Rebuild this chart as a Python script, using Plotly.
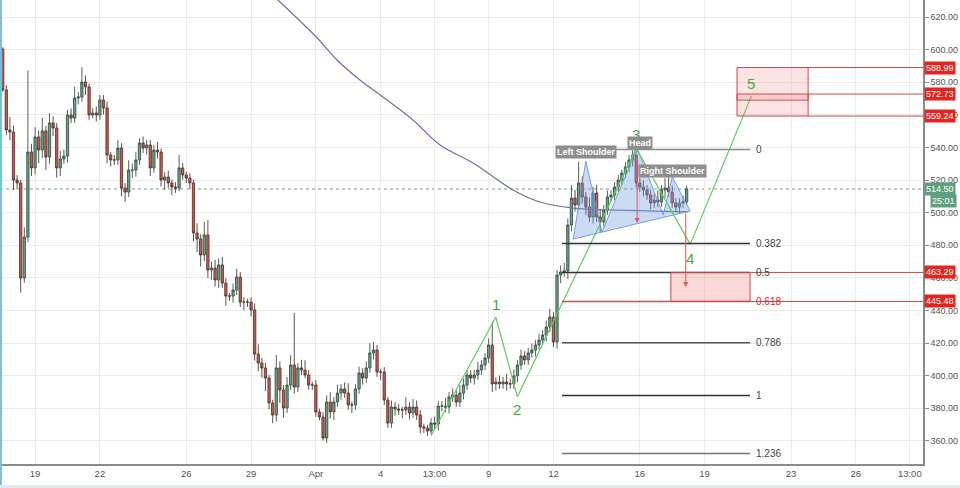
import plotly.graph_objects as go
import pandas as pd

# ---------------- data ----------------
candle_start = "2018-03-17 12:00"
first_open = 600.4
closes = [
    575.2, 550.7, 549.4, 520.0, 518.2, 459.9, 485.0, 537.2, 527.4, 546.4,
    538.4, 550.1, 534.1, 555.0, 551.9, 527.4, 532.9, 534.7, 559.9, 558.0,
    570.3, 570.9, 580.1, 577.1, 559.9, 561.1, 559.9, 569.1, 564.2, 535.3,
    532.3, 532.3, 539.6, 515.1, 512.6, 526.1, 526.1, 532.3, 542.7, 539.6,
    541.5, 527.4, 538.4, 537.2, 520.0, 521.8, 518.2, 515.7, 515.1, 527.4,
    523.1, 521.2, 518.2, 487.5, 483.8, 474.0, 486.3, 464.8, 466.0, 458.7,
    467.9, 456.8, 448.8, 448.8, 452.5, 460.5, 445.1, 445.1, 445.1, 440.3,
    413.2, 407.7, 404.7, 398.5, 383.2, 375.8, 404.7, 391.2, 380.1, 394.2,
    406.5, 393.0, 404.7, 403.4, 400.4, 394.2, 394.2, 377.7, 374.6, 361.7,
    383.8, 377.7, 383.8, 389.3, 391.8, 389.3, 382.0, 382.0, 391.8, 401.6,
    398.5, 404.7, 413.9, 415.7, 402.2, 402.2, 385.0, 370.9, 380.7, 379.5,
    378.9, 378.9, 380.7, 377.1, 380.7, 375.8, 368.5, 367.8, 366.0, 370.9,
    370.3, 381.3, 381.3, 380.7, 386.9, 388.1, 383.8, 389.3, 394.2, 400.4,
    398.5, 400.4, 403.4, 406.5, 410.8, 418.8, 394.9, 396.1, 394.9, 396.1,
    394.9, 394.9, 399.8, 406.5, 412.0, 409.6, 413.9, 415.7, 418.8, 421.8,
    424.9, 429.8, 435.9, 420.6, 461.7, 463.6, 464.2, 492.4, 508.9, 504.7,
    518.2, 509.6, 503.4, 497.3, 512.0, 497.3, 494.2, 501.6, 509.6, 510.8,
    515.7, 520.0, 524.3, 528.0, 532.3, 535.3, 518.2, 515.7, 513.9, 510.8,
    505.9, 507.7, 506.5, 513.9, 515.1, 512.6, 505.9, 503.4, 505.9, 506.5, 514.5,
]
wick_up = [
    1, 3, 8, 4, 3, 2, 6, 50, 5, 6,
    4, 8, 3, 6, 4, 3, 5, 4, 3, 4,
    7, 3, 9, 4, 2, 3, 4, 3, 3, 4,
    2, 3, 5, 3, 3, 6, 4, 5, 3, 4,
    3, 3, 3, 5, 2, 3, 4, 2, 3, 8,
    3, 2, 3, 2, 6, 3, 8, 9, 4, 5,
    4, 5, 3, 2, 4, 5, 3, 3, 2, 3,
    4, 6, 3, 3, 2, 2, 8, 4, 3, 5,
    6, 32, 3, 5, 6, 3, 2, 3, 2, 3,
    4, 6, 3, 5, 3, 4, 6, 2, 3, 4,
    3, 4, 6, 5, 3, 2, 3, 2, 4, 3,
    3, 2, 6, 3, 5, 4, 3, 2, 2, 3,
    4, 3, 3, 5, 3, 4, 3, 5, 4, 3,
    3, 3, 5, 3, 3, 4, 14, 3, 4, 3,
    5, 3, 4, 3, 4, 3, 3, 4, 3, 4,
    3, 4, 5, 3, 3, 4, 5, 4, 8, 5,
    13, 4, 3, 6, 4, 5, 5, 3, 4, 3,
    3, 3, 2, 3, 3, 3, 3, 3, 4, 3,
    3, 4, 6, 3, 6, 7, 4, 3, 3, 4, 2,
]
wick_dn = [
    1, 3, 5, 6, 4, 9, 3, 3, 5, 4,
    8, 5, 8, 4, 5, 6, 5, 3, 4, 3,
    3, 4, 3, 5, 3, 2, 4, 3, 4, 5,
    4, 3, 3, 5, 6, 3, 5, 4, 3, 3,
    4, 5, 3, 4, 4, 6, 3, 5, 3, 2,
    3, 3, 4, 5, 8, 7, 4, 5, 6, 4,
    5, 3, 6, 3, 4, 3, 3, 5, 3, 4,
    4, 5, 6, 8, 4, 5, 4, 8, 6, 3,
    3, 4, 3, 3, 2, 3, 3, 3, 2, 1.5,
    3, 4, 5, 3, 4, 3, 3, 5, 3, 3,
    4, 3, 3, 4, 3, 5, 3, 3, 3, 4,
    3, 5, 3, 4, 3, 3, 4, 3, 3, 2,
    3, 4, 3, 3, 4, 3, 3, 3, 4, 3,
    3, 4, 3, 3, 3, 3, 5, 4, 3, 3,
    4, 3, 3, 4, 3, 3, 3, 3, 4, 3,
    3, 4, 3, 3, 4, 5, 3, 5, 4, 4,
    3, 4, 5, 3, 4, 3, 6, 3, 3, 3,
    3, 3, 3, 3, 3, 4, 3, 3, 4, 3,
    4, 3, 3, 3, 5, 3, 3, 3, 4, 3, 2,
]

# moving average
ma_times = ["2018-03-29 10:00", "2018-03-30 06:00", "2018-04-01 01:30", "2018-04-01 23:30",
            "2018-04-03 01:00", "2018-04-04 07:00", "2018-04-05 12:00", "2018-04-06 18:00",
            "2018-04-08 06:45", "2018-04-10 03:00", "2018-04-11 09:00", "2018-04-12 22:00",
            "2018-04-15 02:00", "2018-04-18 05:30"]
ma_values = [641.0, 630.4, 607.1, 593.6, 581.3, 569.1, 556.8, 541.5, 530.4, 513.9, 506.5, 502.8, 501.5, 500.5]

# Elliott wave points
wave_times = ["2018-04-06 08:00", "2018-04-09 08:00", "2018-04-10 08:00",
              "2018-04-15 20:00", "2018-04-18 08:00", "2018-04-21 04:00"]
wave_values = [363.1, 435.8, 387.0, 539.4, 480.5, 571.5]
wave_labels = ["", "1", "2", "3", "4", "5"]
wave_label_values = [None, 443.9, 379.5, 548.2, 472.1, 578.9]

# Head & shoulders outline
hs_times = ["2018-04-12 22:00", "2018-04-13 12:00", "2018-04-14 06:00", "2018-04-15 21:00",
            "2018-04-17 02:00", "2018-04-17 12:00", "2018-04-18 08:00", "2018-04-12 22:00"]
hs_values = [483.8, 531.6, 488.1, 539.6, 498.5, 521.8, 501.0, 483.8]
hs_label_text = ["Left Shoulder", "Head", "Right Shoulder"]
hs_label_times = ["2018-04-13 12:15", "2018-04-16 00:00", "2018-04-17 11:45"]
hs_label_values = [537.2, 543.0, 525.5]

# arrows (time, from value, to value)
arrow_times = ["2018-04-15 21:00", "2018-04-18 03:00"]
arrow_from = [535.3, 500.4]
arrow_to = [493.6, 454.4]

# Fibonacci retracement
fib_start, fib_end = "2018-04-12 09:30", "2018-04-21 02:30"
fib_high, fib_low = 538.74, 387.83
fib_levels = [0, 0.382, 0.5, 0.618, 0.786, 1, 1.236]
fib_text = ["0", "0.382", "0.5", "0.618", "0.786", "1", "1.236"]

# target boxes
boxA_times = ["2018-04-17 10:30", "2018-04-21 02:30"]
boxA_values = [445.48, 463.29]
boxB_times = ["2018-04-20 12:00", "2018-04-23 19:00"]
boxB_ranges = [(569.0, 588.99), (559.24, 572.73)]
boxB_levels = [588.99, 572.73, 559.24]

last_price = 514.50
countdown = "25:01"

# axis
x_range = ["2018-03-17 09:00", "2018-04-29 02:40"]
y_range = [345.77, 630.43]
x_tickvals = ["2018-03-19", "2018-03-22", "2018-03-26", "2018-03-29", "2018-04-01", "2018-04-04",
              "2018-04-06 12:00", "2018-04-09", "2018-04-12", "2018-04-16", "2018-04-19",
              "2018-04-23", "2018-04-26", "2018-04-28 12:00"]
x_ticktext = ["19", "22", "26", "29", "Apr", "4", "13:00", "9", "12", "16", "19", "23", "26", "13:00"]
y_tickvals = [360, 380, 400, 420, 440, 460, 480, 500, 520, 540, 560, 580, 600, 620]

# ---------------- build ----------------
times = pd.date_range(candle_start, periods=len(closes), freq="4h")
opens = [first_open] + closes[:-1]
highs = [max(o, c) + u for o, c, u in zip(opens, closes, wick_up)]
lows = [min(o, c) - d for o, c, d in zip(opens, closes, wick_dn)]

FONT = "Liberation Sans, Arial, sans-serif"
RED = "#e3241f"
BOXRED = "#d0454a"
GREEN_W = "#5fce5f"
GREEN_T = "#43a843"
TAGSIZE = 9

fig = go.Figure()
fig.add_trace(go.Candlestick(
    x=times, open=opens, high=highs, low=lows, close=closes,
    increasing=dict(fillcolor="#62a783", line=dict(color="#40514a", width=0.9)),
    decreasing=dict(fillcolor="#d35846", line=dict(color="#553a36", width=0.9)),
    whiskerwidth=0, hoverinfo="skip", showlegend=False,
))
fig.add_trace(go.Scatter(x=ma_times, y=ma_values, mode="lines", line=dict(color="#6f6fa6", width=1.2, shape="spline"),
                         hoverinfo="skip", showlegend=False))
# head & shoulders
fig.add_trace(go.Scatter(x=hs_times, y=hs_values, mode="lines", fill="toself",
                         fillcolor="rgba(120,160,225,0.38)", line=dict(color="rgba(110,150,220,0.9)", width=1),
                         hoverinfo="skip", showlegend=False))
# wave
fig.add_trace(go.Scatter(x=wave_times, y=wave_values, mode="lines", line=dict(color=GREEN_W, width=1.2),
                         hoverinfo="skip", showlegend=False))

shapes = []
shapes.append(dict(type="line", xref="paper", x0=0, x1=1, yref="y", y0=last_price, y1=last_price,
                   line=dict(color="#6e9c8c", width=1, dash="dot"), layer="below"))
fib_colors = ["#8a8a8a", "#333333", "#333333", "#b85a55", "#555555", "#333333", "#777777"]
fib_vals = [fib_high - lv * (fib_high - fib_low) for lv in fib_levels]
for v, col in zip(fib_vals, fib_colors):
    shapes.append(dict(type="line", xref="x", yref="y", x0=fib_start, x1=fib_end, y0=v, y1=v,
                       line=dict(color=col, width=1.5)))
shapes.append(dict(type="rect", xref="x", yref="y", x0=boxA_times[0], x1=boxA_times[1],
                   y0=boxA_values[0], y1=boxA_values[1], fillcolor="rgba(240,120,120,0.28)",
                   line=dict(color=BOXRED, width=1)))
for v in boxA_values:
    shapes.append(dict(type="line", xref="x", yref="y", x0=boxA_times[1], x1=x_range[1], y0=v, y1=v,
                       line=dict(color=BOXRED, width=1)))
for lo, hi in boxB_ranges:
    shapes.append(dict(type="rect", xref="x", yref="y", x0=boxB_times[0], x1=boxB_times[1],
                       y0=lo, y1=hi, fillcolor="rgba(240,120,120,0.2)", line=dict(color=BOXRED, width=1)))
for v in boxB_levels:
    shapes.append(dict(type="line", xref="x", yref="y", x0=boxB_times[1], x1=x_range[1], y0=v, y1=v,
                       line=dict(color=BOXRED, width=1)))
shapes.append(dict(type="line", xref="paper", yref="paper", x0=0.001, x1=0.001, y0=-0.05, y1=1,
                   line=dict(color="#79bfdc", width=2)))
shapes.append(dict(type="rect", xref="paper", yref="paper", x0=0, x1=1.05, y0=-0.06, y1=-0.045,
                   fillcolor="#e4e8ec", line=dict(width=0)))

ann = []
for t, v in zip(fib_text, fib_vals):
    ann.append(dict(x=fib_end, y=v, xref="x", yref="y", text=t, showarrow=False, xanchor="left",
                    xshift=4, font=dict(family=FONT, size=10, color=(RED if t == "0.618" else "#444"))))
for t, x, v in zip(wave_labels, wave_times, wave_label_values):
    if t:
        ann.append(dict(x=x, y=v, xref="x", yref="y", text=t, showarrow=False,
                        font=dict(family=FONT, size=15, color=GREEN_T)))
for t, x, v in zip(hs_label_text, hs_label_times, hs_label_values):
    ann.append(dict(x=x, y=v, xref="x", yref="y", text="<b>" + t + "</b>", showarrow=False,
                    bgcolor="#8e8e8e", borderpad=1, font=dict(family=FONT, size=9, color="white")))
for x, a, b in zip(arrow_times, arrow_from, arrow_to):
    ann.append(dict(x=x, y=b, ax=x, ay=a, xref="x", yref="y", axref="x", ayref="y", text="",
                    showarrow=True, arrowhead=2, arrowsize=1, arrowwidth=1, arrowcolor="#e05555"))
for v in boxB_levels + boxA_values[::-1]:
    ann.append(dict(x=1, y=v, xref="paper", yref="y", text="%.2f" % v, showarrow=False, xanchor="left",
                    xshift=1, bgcolor=RED, borderpad=1, font=dict(family=FONT, size=TAGSIZE, color="white")))
ann.append(dict(x=1, y=last_price, xref="paper", yref="y", text="%.2f" % last_price, showarrow=False,
                xanchor="left", xshift=1, bgcolor="#5f9f80", borderpad=1,
                font=dict(family=FONT, size=TAGSIZE, color="white")))
ann.append(dict(x=1, y=last_price, xref="paper", yref="y", text=countdown, showarrow=False,
                xanchor="left", xshift=7, yshift=-12, bgcolor="#5f9f80", borderpad=1,
                font=dict(family=FONT, size=TAGSIZE, color="white")))

fig.update_layout(
    width=960, height=488, margin=dict(l=0, r=37, t=0, b=24),
    paper_bgcolor="white", plot_bgcolor="white",
    shapes=shapes, annotations=ann, showlegend=False, boxgap=0.1,
    font=dict(family=FONT, size=9, color="#555"),
    xaxis=dict(type="date", range=x_range, tickvals=x_tickvals, ticktext=x_ticktext,
               showgrid=True, gridcolor="#ececec", gridwidth=1, showline=True, linecolor="#8c8c8c",
               linewidth=1.5, ticks="", tickfont=dict(size=9.5, color="#555"),
               rangeslider=dict(visible=False), zeroline=False, fixedrange=True),
    yaxis=dict(side="right", range=y_range, tickvals=y_tickvals, tickformat=".2f",
               showgrid=True, gridcolor="#ececec", gridwidth=1, showline=True, linecolor="#8c8c8c",
               linewidth=1.5, ticks="outside", ticklen=4, tickcolor="#8c8c8c",
               tickfont=dict(size=9, color="#555"), zeroline=False, fixedrange=True),
)

fig.write_html("out.html", config={"displayModeBar": False},
               post_script="document.body.style.margin='0';document.body.style.overflow='hidden';")
